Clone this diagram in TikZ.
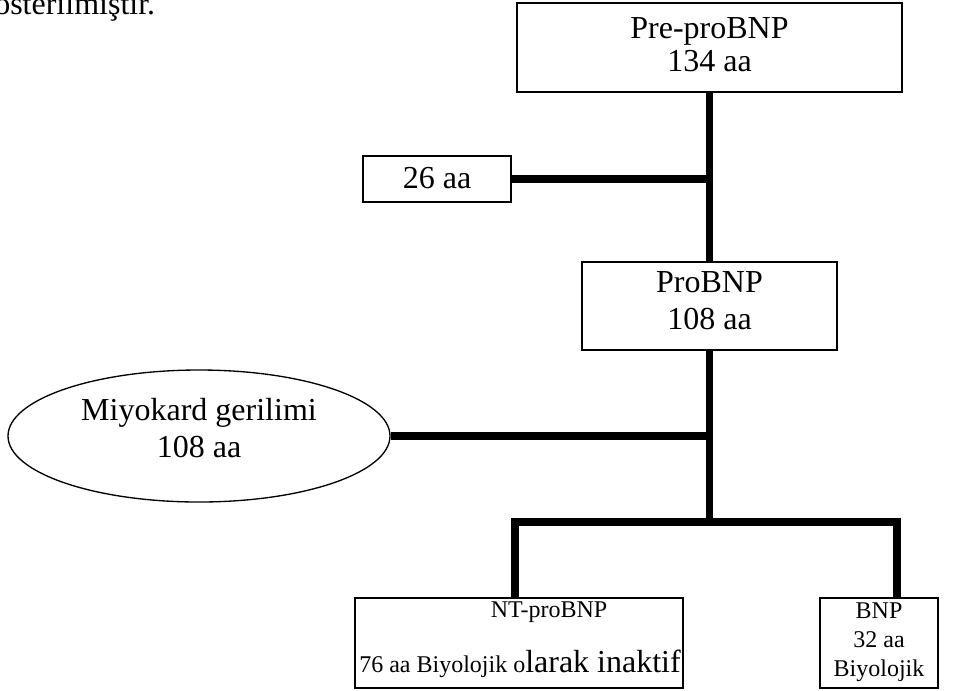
\documentclass[tikz,border=0pt]{standalone}
\usepackage{fontspec}
\setmainfont{Liberation Serif}
\usetikzlibrary{shapes.geometric}
\tikzset{
  bx/.style={draw, line width=1pt, inner sep=0pt, rectangle},
  ell/.style={draw, line width=1pt, inner sep=0pt, ellipse},
  conn/.style={line width=5.3pt},
  big/.style={font=\fontsize{24}{27.75}\selectfont, inner sep=0pt},
  small/.style={font=\fontsize{18}{21}\selectfont, inner sep=0pt},
}
\begin{document}
\begin{tikzpicture}[x=0.75pt,y=-0.75pt]
\useasboundingbox (0,0) rectangle (962,690);
\begin{scope}
\clip (0,0) rectangle (962,690);
\node[big, anchor=base west] (cap) at (-6,14) {österilmiştir.};
\end{scope}

% junction coordinates
\coordinate (j1) at (709.5,179);
\coordinate (j2) at (709.5,436);
\coordinate (j3) at (709.5,522);
\coordinate (bl) at (515,522);
\coordinate (br) at (897,522);

% shapes
\node[bx, minimum width=288.75pt, minimum height=66.75pt] (pre) at (709.5,47.5) {};
\node[bx, minimum width=111pt, minimum height=34.5pt] (aa26) at (437,179) {};
\node[bx, minimum width=191.25pt, minimum height=66pt] (pro) at (709.5,306) {};
\node[ell, minimum width=286.5pt, minimum height=99pt] (myo) at (199,436) {};
\node[bx, minimum width=246pt, minimum height=67.5pt] (nt) at (519,643) {};
\node[bx, minimum width=88.5pt, minimum height=67.5pt] (bnp) at (879,643) {};

% texts
\node[big, anchor=base] (preA) at (709.5,38) {Pre-proBNP};
\node[big, anchor=base] (preB) at (709.5,71) {134 aa};
\node[big, anchor=base] (aa26t) at (437,188) {26 aa};
\node[big, anchor=base] (proA) at (709.5,292) {ProBNP};
\node[big, anchor=base] (proB) at (709.5,329) {108 aa};
\node[big, anchor=base] (myoA) at (199,420) {Miyokard gerilimi};
\node[big, anchor=base] (myoB) at (199,457) {108 aa};
\node[small, anchor=base] (ntA) at (549,617) {NT-proBNP};
\node[inner sep=0pt, anchor=base east] (ntB) at (681,672) {{\fontsize{18}{21}\selectfont 76 aa Biyolojik o}{\fontsize{24}{28}\selectfont larak inaktif}};
\node[small, anchor=base] (bnpA) at (879,618) {BNP};
\node[small, anchor=base] (bnpB) at (879,647) {32 aa};
\node[small, anchor=base] (bnpC) at (879,676) {Biyolojik};

% connectors
\draw[conn] (pre.south) -- (pro.north);
\draw[conn] (aa26.east) -- (j1);
\draw[conn] (pro.south) -- (j3);
\draw[conn] (myo.east) -- (j2);
\draw[conn, line cap=rect] (bl) -- (br);
\draw[conn] (bl) -- (bl |- nt.north);
\draw[conn] (br) -- (br |- bnp.north);
\end{tikzpicture}
\end{document}
